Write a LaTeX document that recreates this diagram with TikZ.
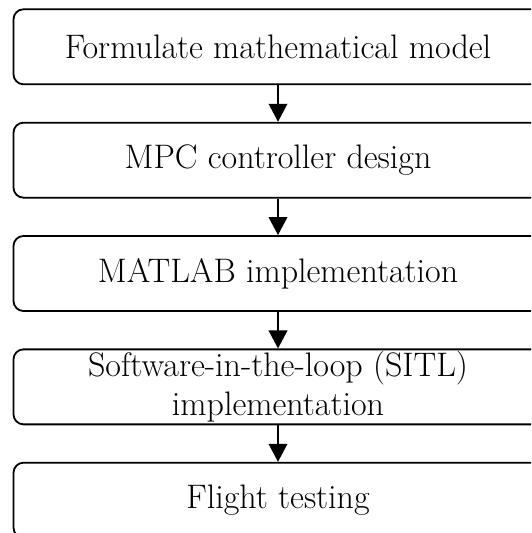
\documentclass[tikz,border=0pt]{standalone}
\usetikzlibrary{arrows.meta}
\begin{document}
\begin{tikzpicture}[x=1pt,y=1pt,
  stepbox/.style={draw=black, line width=0.9pt, rounded corners=5pt, rectangle,
    minimum width=264.5pt, minimum height=37.5pt, inner sep=0pt, align=center,
    font=\fontsize{17}{19.4}\selectfont},
  flow/.style={line width=0.9pt, -{Triangle[width=9.3pt,length=9pt]}}]
\useasboundingbox (0,0) rectangle (265.5,-266.5);
\clip (0,0) rectangle (265.5,-266.5);
\node[stepbox] (n1) at (139,-23.4) {Formulate mathematical model};
\node[stepbox] (n2) at (139,-80.08) {MPC controller design};
\node[stepbox] (n3) at (139,-136.75) {MATLAB implementation};
\node[stepbox] (n4) at (139,-193.43) {Software-in-the-loop (SITL)\\implementation};
\node[stepbox] (n5) at (139,-250.1) {Flight testing};
\draw[flow] (n1) -- (n2);
\draw[flow] (n2) -- (n3);
\draw[flow] (n3) -- (n4);
\draw[flow] (n4) -- (n5);
\end{tikzpicture}
\end{document}
